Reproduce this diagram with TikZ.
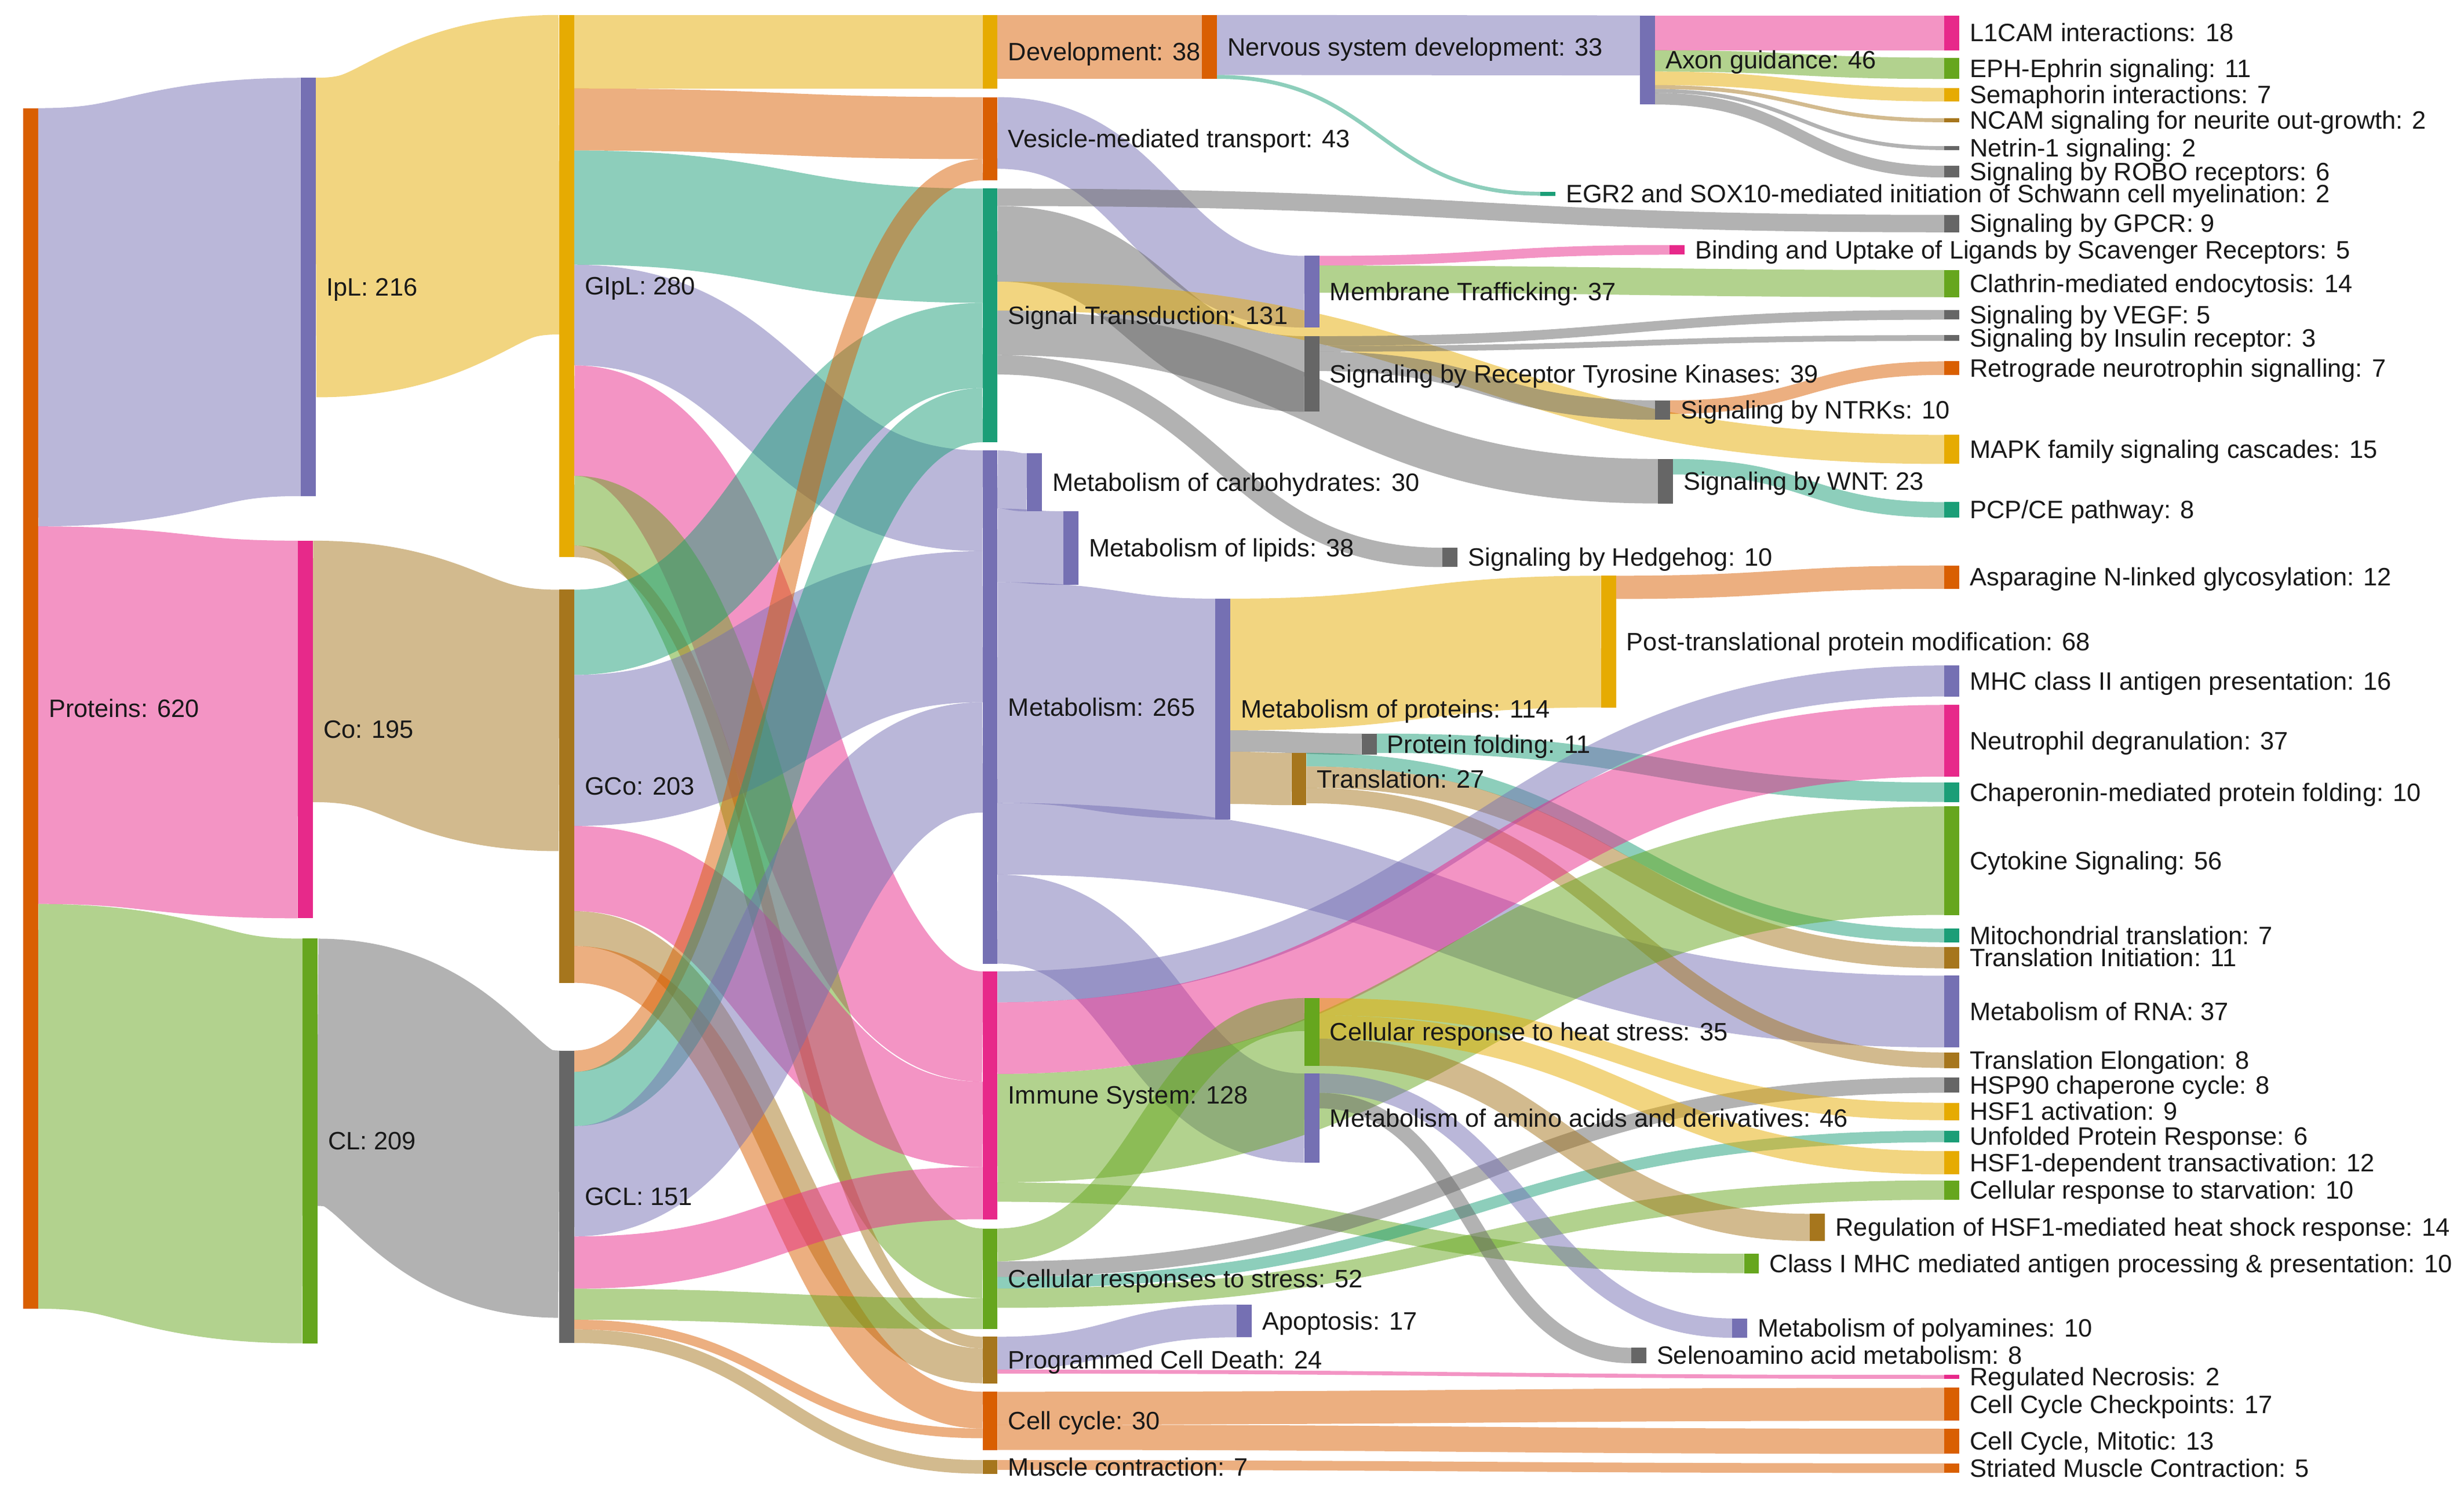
\documentclass[tikz,border=0pt]{standalone}
\usepackage{fontspec}
\setmainfont{Liberation Sans}
\usepackage{xcolor}
\usepackage{tikz}
\usetikzlibrary{calc}
\usetikzlibrary{positioning}

\definecolor{dteal}{HTML}{1B9E77}
\definecolor{dorange}{HTML}{D95F02}
\definecolor{dpurple}{HTML}{7570B3}
\definecolor{dpink}{HTML}{E7298A}
\definecolor{dgreen}{HTML}{66A61E}
\definecolor{dyellow}{HTML}{E6AB02}
\definecolor{dbrown}{HTML}{A6761D}
\definecolor{dgray}{HTML}{666666}

\newcommand{\pxu}{1.232}
\newcommand{\vs}{0.308mm}
\newcommand{\labfont}{\fontsize{11.38pt}{13pt}\selectfont}

\pgfdeclarelayer{flows}
\pgfsetlayers{flows,main}

\tikzset{
  nbar/.style={rectangle, anchor=north west, inner sep=0pt, outer sep=0pt, minimum width=2.375mm, draw=none},
  nlab/.style={inner sep=0pt, outer sep=0pt, font=\labfont, text=black!90, text height=2.8mm, text depth=0pt},
  flowline/.style={draw opacity=0.5, line cap=butt}
}

\newcommand{\snode}[6]{%
  \node[nbar, fill=#2, minimum height=#5*\vs] (#1) at (#3,#4) {};
  \node[nlab, right=1.7mm of #1] (#1-lab) {#6};}

\newcommand{\lnk}[6]{%
  \path ($(#3.north east)+(0,{(#4+#2/2)*\pxu})$) coordinate (#3-#5-s)
        ($(#5.north west)+(0,{(#6+#2/2)*\pxu})$) coordinate (#3-#5-t)
        ($(#3-#5-s)!0.5!(#3-#5-t)$) coordinate (#3-#5-m);
  \draw[flowline, draw=#1, line width=#2*\vs] (#3-#5-s) .. controls (#3-#5-m |- #3-#5-s) and (#3-#5-m |- #3-#5-t) .. (#3-#5-t);}

\begin{document}
\begin{tikzpicture}[x=0.25mm, y=-0.25mm]
\useasboundingbox (0,0) rectangle (1568,947);

\snode{prot}{dorange}{14.7}{68.8}{620}{Proteins: 620}
\snode{ipl}{dpurple}{191.5}{49.5}{216}{IpL: 216}
\snode{co}{dpink}{189.5}{344}{195}{Co: 195}
\snode{cl}{dgreen}{192.5}{597.2}{209}{CL: 209}
\snode{gipl}{dyellow}{355.8}{9.5}{280}{GIpL: 280}
\snode{gco}{dbrown}{355.8}{375.2}{203}{GCo: 203}
\snode{gcl}{dgray}{355.8}{668.4}{151}{GCL: 151}

\snode{dev}{dyellow}{625.3}{9.5}{38}{Development: 38}
\snode{ves}{dorange}{625.3}{61.8}{43}{Vesicle-mediated transport: 43}
\snode{sig}{dteal}{625.3}{120}{131}{Signal Transduction: 131}
\snode{met}{dpurple}{625.3}{286.6}{265}{Metabolism: 265}
\snode{imm}{dpink}{625.3}{618}{128}{Immune System: 128}
\snode{stress}{dgreen}{625.3}{781.6}{52}{Cellular responses to stress: 52}
\snode{pcd}{dbrown}{625.3}{850.5}{24}{Programmed Cell Death: 24}
\snode{ccyc}{dorange}{625.3}{885.5}{30}{Cell cycle: 30}
\snode{musc}{dbrown}{625.3}{929}{7}{Muscle contraction: 7}

\snode{carb}{dpurple}{653.4}{288.4}{30}{Metabolism of carbohydrates: 30}
\snode{lip}{dpurple}{676.8}{325.3}{38}{Metabolism of lipids: 38}
\snode{nerv}{dorange}{764.8}{9.5}{33}{Nervous system development: 33}
\snode{mprot}{dpurple}{773.3}{380.9}{114}{Metabolism of proteins: 114}
\snode{apop}{dpurple}{787.1}{829.9}{17}{Apoptosis: 17}
\snode{transl}{dbrown}{821.8}{479}{27}{Translation: 27}
\snode{memb}{dpurple}{830}{162.8}{37}{Membrane Trafficking: 37}
\snode{rtk}{dgray}{830}{213.9}{39}{Signaling by Receptor Tyrosine Kinases: 39}
\snode{heat}{dgreen}{830}{635}{35}{Cellular response to heat stress: 35}
\snode{amino}{dpurple}{830}{683}{46}{Metabolism of amino acids and derivatives: 46}
\snode{fold}{dgray}{866.5}{466.7}{11}{Protein folding: 11}
\snode{hedge}{dgray}{918}{348.5}{10}{Signaling by Hedgehog: 10}
\snode{egr}{dteal}{980.2}{122}{2}{EGR2 and SOX10-mediated initiation of Schwann cell myelination: 2}
\snode{ptm}{dyellow}{1018.8}{366.3}{68}{Post-translational protein modification: 68}
\snode{seleno}{dgray}{1038}{857.5}{8}{Selenoamino acid metabolism: 8}
\snode{axon}{dpurple}{1043.6}{9.8}{46}{Axon guidance: 46}
\snode{ntrk}{dgray}{1053.3}{254.7}{10}{Signaling by NTRKs: 10}
\snode{wnt}{dgray}{1055}{292}{23}{Signaling by WNT: 23}
\snode{bind}{dpink}{1062.4}{155.9}{5}{Binding and Uptake of Ligands by Scavenger Receptors: 5}
\snode{polya}{dpurple}{1102.2}{838.8}{10}{Metabolism of polyamines: 10}
\snode{mhc1}{dgreen}{1109.8}{797.7}{10}{Class I MHC mediated antigen processing \& presentation: 10}
\snode{hsfreg}{dbrown}{1151.8}{772.3}{14}{Regulation of HSF1-mediated heat shock response: 14}

\snode{l1cam}{dpink}{1237.3}{9.8}{18}{L1CAM interactions: 18}
\snode{eph}{dgreen}{1237.3}{36.7}{11}{EPH-Ephrin signaling: 11}
\snode{sema}{dyellow}{1237.3}{55.9}{7}{Semaphorin interactions: 7}
\snode{ncam}{dbrown}{1237.3}{75.3}{2}{NCAM signaling for neurite out-growth: 2}
\snode{netrin}{dgray}{1237.3}{93}{2}{Netrin-1 signaling: 2}
\snode{robo}{dgray}{1237.3}{105.5}{6}{Signaling by ROBO receptors: 6}
\snode{gpcr}{dgray}{1237.3}{136.7}{9}{Signaling by GPCR: 9}
\snode{clath}{dgreen}{1237.3}{171.8}{14}{Clathrin-mediated endocytosis: 14}
\snode{vegf}{dgray}{1237.3}{197.2}{5}{Signaling by VEGF: 5}
\snode{insr}{dgray}{1237.3}{213.2}{3}{Signaling by Insulin receptor: 3}
\snode{retro}{dorange}{1237.3}{229.9}{7}{Retrograde neurotrophin signalling: 7}
\snode{mapk}{dyellow}{1237.3}{276.7}{15}{MAPK family signaling cascades: 15}
\snode{pcp}{dteal}{1237.3}{319.5}{8}{PCP/CE pathway: 8}
\snode{asn}{dorange}{1237.3}{359.8}{12}{Asparagine N-linked glycosylation: 12}
\snode{mhc2}{dpurple}{1237.3}{423.4}{16}{MHC class II antigen presentation: 16}
\snode{neut}{dpink}{1237.3}{448.5}{37}{Neutrophil degranulation: 37}
\snode{chap}{dteal}{1237.3}{497.9}{10}{Chaperonin-mediated protein folding: 10}
\snode{cyto}{dgreen}{1237.3}{513.1}{56}{Cytokine Signaling: 56}
\snode{mito}{dteal}{1237.3}{590.9}{7}{Mitochondrial translation: 7}
\snode{tinit}{dbrown}{1237.3}{602.5}{11}{Translation Initiation: 11}
\snode{rna}{dpurple}{1237.3}{620.8}{37}{Metabolism of RNA: 37}
\snode{telong}{dbrown}{1237.3}{669.6}{8}{Translation Elongation: 8}
\snode{hsp90}{dgray}{1237.3}{685.4}{8}{HSP90 chaperone cycle: 8}
\snode{hsfact}{dyellow}{1237.3}{701.6}{9}{HSF1 activation: 9}
\snode{upr}{dteal}{1237.3}{719.3}{6}{Unfolded Protein Response: 6}
\snode{hsfdep}{dyellow}{1237.3}{732.4}{12}{HSF1-dependent transactivation: 12}
\snode{starv}{dgreen}{1237.3}{751}{10}{Cellular response to starvation: 10}
\snode{regnec}{dpink}{1237.3}{874.8}{2}{Regulated Necrosis: 2}
\snode{ckpt}{dorange}{1237.3}{883}{17}{Cell Cycle Checkpoints: 17}
\snode{mitotic}{dorange}{1237.3}{909}{13}{Cell Cycle, Mitotic: 13}
\snode{striated}{dorange}{1237.3}{931}{5}{Striated Muscle Contraction: 5}

\begin{pgfonlayer}{flows}
\lnk{dpurple}{216}{prot}{0}{ipl}{0}
\lnk{dpink}{195}{prot}{216}{co}{0}
\lnk{dgreen}{209}{prot}{411}{cl}{0}
\lnk{dyellow}{165}{ipl}{0}{gipl}{0}
\lnk{dbrown}{135}{co}{0}{gco}{0}
\lnk{dgray}{138}{cl}{0}{gcl}{0}

\lnk{dyellow}{38}{gipl}{0}{dev}{0}
\lnk{dorange}{32}{gipl}{38}{ves}{0}
\lnk{dteal}{59}{gipl}{70}{sig}{0}
\lnk{dpurple}{52}{gipl}{129}{met}{0}
\lnk{dpink}{57}{gipl}{181}{imm}{0}
\lnk{dgreen}{36}{gipl}{238}{stress}{0}
\lnk{dbrown}{6}{gipl}{274}{pcd}{0}
\lnk{dteal}{44}{gco}{0}{sig}{59}
\lnk{dpurple}{78}{gco}{44}{met}{52}
\lnk{dpink}{44}{gco}{122}{imm}{57}
\lnk{dbrown}{18}{gco}{166}{pcd}{6}
\lnk{dorange}{19}{gco}{184}{ccyc}{0}
\lnk{dorange}{11}{gcl}{0}{ves}{32}
\lnk{dteal}{28}{gcl}{11}{sig}{103}
\lnk{dpurple}{57}{gcl}{39}{met}{130}
\lnk{dpink}{27}{gcl}{96}{imm}{101}
\lnk{dgreen}{16}{gcl}{123}{stress}{36}
\lnk{dorange}{5}{gcl}{139}{ccyc}{19}
\lnk{dbrown}{7}{gcl}{144}{musc}{0}

\lnk{dorange}{33}{dev}{0}{nerv}{0}
\lnk{dpurple}{31}{nerv}{0}{axon}{0}
\lnk{dteal}{2}{nerv}{31}{egr}{0}
\lnk{dpink}{18}{axon}{0}{l1cam}{0}
\lnk{dgreen}{11}{axon}{18}{eph}{0}
\lnk{dyellow}{7}{axon}{29}{sema}{0}
\lnk{dbrown}{2}{axon}{36}{ncam}{0}
\lnk{dgray}{2}{axon}{38}{netrin}{0}
\lnk{dgray}{6}{axon}{40}{robo}{0}
\lnk{dpurple}{37}{ves}{0}{memb}{0}
\lnk{dpink}{5}{memb}{0}{bind}{0}
\lnk{dgreen}{14}{memb}{5}{clath}{0}
\lnk{dgray}{9}{sig}{0}{gpcr}{0}
\lnk{dgray}{39}{sig}{9}{rtk}{0}
\lnk{dyellow}{15}{sig}{48}{mapk}{0}
\lnk{dgray}{23}{sig}{63}{wnt}{0}
\lnk{dgray}{10}{sig}{86}{hedge}{0}
\lnk{dgray}{5}{rtk}{0}{vegf}{0}
\lnk{dgray}{3}{rtk}{5}{insr}{0}
\lnk{dgray}{10}{rtk}{8}{ntrk}{0}
\lnk{dorange}{7}{ntrk}{0}{retro}{0}
\lnk{dteal}{8}{wnt}{0}{pcp}{0}
\lnk{dpurple}{30}{met}{0}{carb}{0}
\lnk{dpurple}{38}{met}{30}{lip}{0}
\lnk{dpurple}{114}{met}{68}{mprot}{0}
\lnk{dpurple}{37}{met}{182}{rna}{0}
\lnk{dpurple}{46}{met}{219}{amino}{0}
\lnk{dyellow}{68}{mprot}{0}{ptm}{0}
\lnk{dgray}{11}{mprot}{68}{fold}{0}
\lnk{dbrown}{27}{mprot}{79}{transl}{0}
\lnk{dorange}{12}{ptm}{0}{asn}{0}
\lnk{dteal}{10}{fold}{0}{chap}{0}
\lnk{dteal}{7}{transl}{0}{mito}{0}
\lnk{dbrown}{11}{transl}{7}{tinit}{0}
\lnk{dbrown}{8}{transl}{18}{telong}{0}
\lnk{dpurple}{16}{imm}{0}{mhc2}{0}
\lnk{dpink}{37}{imm}{16}{neut}{0}
\lnk{dgreen}{56}{imm}{53}{cyto}{0}
\lnk{dgreen}{10}{imm}{109}{mhc1}{0}
\lnk{dgreen}{17}{stress}{0}{heat}{0}
\lnk{dgray}{8}{stress}{17}{hsp90}{0}
\lnk{dteal}{6}{stress}{25}{upr}{0}
\lnk{dgreen}{10}{stress}{31}{starv}{0}
\lnk{dyellow}{9}{heat}{0}{hsfact}{0}
\lnk{dyellow}{12}{heat}{9}{hsfdep}{0}
\lnk{dbrown}{14}{heat}{21}{hsfreg}{0}
\lnk{dpurple}{10}{amino}{0}{polya}{0}
\lnk{dgray}{8}{amino}{10}{seleno}{0}
\lnk{dpurple}{17}{pcd}{0}{apop}{0}
\lnk{dpink}{2}{pcd}{17}{regnec}{0}
\lnk{dorange}{17}{ccyc}{0}{ckpt}{0}
\lnk{dorange}{13}{ccyc}{17}{mitotic}{0}
\lnk{dorange}{5}{musc}{0}{striated}{0}
\end{pgfonlayer}
\end{tikzpicture}
\end{document}
